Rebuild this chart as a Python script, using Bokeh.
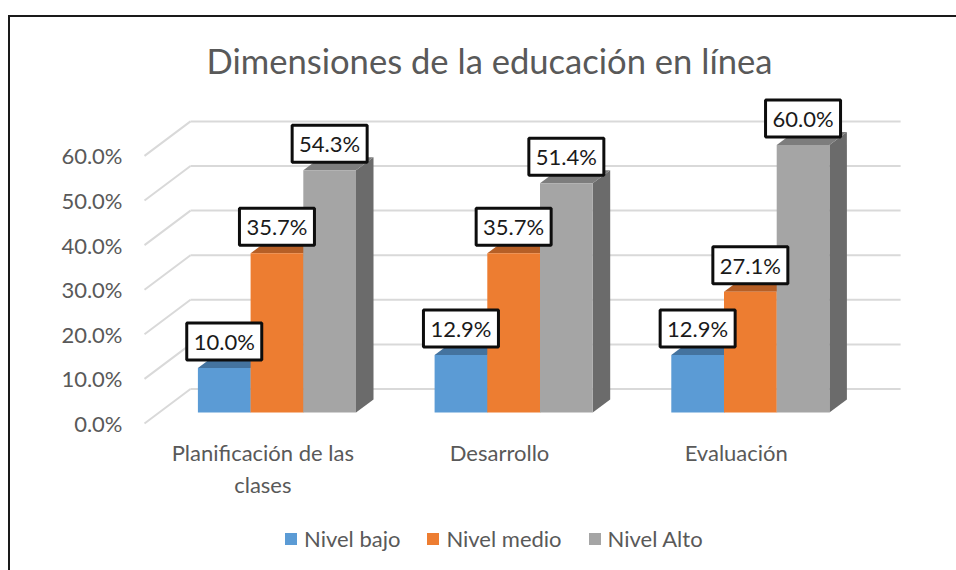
from bokeh.plotting import figure
from bokeh.models import Range1d, FixedTicker, Legend, LegendItem, Title, InlineStyleSheet
from bokeh.core.properties import value
from bokeh.embed import file_html
from bokeh.resources import INLINE

categories = ["Planificación de las\nclases", "Desarrollo", "Evaluación"]
series_names = ["Nivel bajo", "Nivel medio", "Nivel Alto"]
nivel_bajo = [10.0, 12.9, 12.9]
nivel_medio = [35.7, 35.7, 27.1]
nivel_alto = [54.3, 51.4, 60.0]
ticks = [0, 10, 20, 30, 40, 50, 60]
title_text = "Dimensiones de la educación en línea"

FONT = "Lato"
PX_X = 236.7
PX_Y = 4.46
W, H = 956, 570
FT = 90
X0, Y0 = 144, 423   # page position of the chart's origin

colors = ["#5b9bd5", "#ed7d31", "#a5a5a5"]
top_colors = ["#44739f", "#b65f26", "#7d7d7d"]
side_colors = ["#3e6a93", "#a85722", "#6b6b6b"]

p = figure(width=W, height=H, output_backend="svg", toolbar_location=None,
           x_range=Range1d(-X0 / PX_X, (W - X0) / PX_X),
           y_range=Range1d(-(H - Y0) / PX_Y, (Y0 - FT) / PX_Y),
           min_border_left=0, min_border_right=0, min_border_top=FT, min_border_bottom=0,
           tools="")
p.outline_line_color = None
p.grid.visible = False
p.stylesheets = [InlineStyleSheet(css=":host::before{content:'';position:absolute;left:8px;top:15px;"
                                      "right:0;bottom:0;border-left:2px solid #1a1a1a;"
                                      "border-top:2px solid #1a1a1a;pointer-events:none;z-index:5;}")]

wall_dx = 46 / PX_X
wall_dy = 34.5 / PX_Y
n = len(categories)
p.segment(x0=[0] * len(ticks), y0=ticks, x1=[wall_dx] * len(ticks), y1=[t + wall_dy for t in ticks],
          line_color="#d9d9d9", line_width=2)
p.segment(x0=[wall_dx] * len(ticks), y0=[t + wall_dy for t in ticks],
          x1=[wall_dx + n] * len(ticks), y1=[t + wall_dy for t in ticks],
          line_color="#d9d9d9", line_width=2)

base = 11 / PX_Y
bar_w = 52.7 / PX_X
first = 53.4 / PX_X
dx = 17.5 / PX_X
dy = 13 / PX_Y
items = []
box_x, box_y, box_t = [], [], []
for s, vals in enumerate([nivel_bajo, nivel_medio, nivel_alto]):
    l = [i + first + s * bar_w for i in range(n)]
    r = [a + bar_w for a in l]
    t = [base + v for v in vals]
    p.patches(xs=[[b, b + dx, b + dx, b] for b in r],
              ys=[[base, base + dy, y + dy, y] for y in t],
              fill_color=side_colors[s], line_color=None)
    p.patches(xs=[[a, a + dx, b + dx, b] for a, b in zip(l, r)],
              ys=[[y, y + dy, y + dy, y] for y in t],
              fill_color=top_colors[s], line_color=None)
    q = p.quad(left=l, right=r, bottom=[base] * n, top=t, fill_color=colors[s], line_color=None)
    items.append(LegendItem(label=series_names[s], renderers=[q]))
    box_x += [(a + b) / 2 for a, b in zip(l, r)]
    box_y += [y + 26.5 / PX_Y for y in t]
    box_t += [f"{v:.1f}%" for v in vals]

p.rect(x=box_x, y=box_y, width=75, height=37, width_units="screen", height_units="screen",
       fill_color="white", line_color="#0d0d0d", line_width=3)
p.text(x=box_x, y=box_y, text=box_t, text_align="center", text_baseline="middle",
       text_font=value(FONT), text_font_size="22px", text_color="#1a1a1a")

ya = p.yaxis[0]
ya.ticker = FixedTicker(ticks=ticks)
ya.major_label_overrides = {t: f"{t:.1f}%" for t in ticks}
ya.fixed_location = 0
xa = p.xaxis[0]
xa.ticker = FixedTicker(ticks=[i + 0.5 for i in range(n)])
xa.major_label_overrides = {i + 0.5: c for i, c in enumerate(categories)}
xa.fixed_location = 0
for ax in (xa, ya):
    ax.axis_line_color = None
    ax.major_tick_line_color = None
    ax.minor_tick_line_color = None
    ax.major_label_text_font = FONT
    ax.major_label_text_font_size = "22px"
    ax.major_label_text_color = "#595959"
ya.major_label_standoff = 16
xa.major_label_standoff = 9

legend = Legend(items=items, orientation="horizontal", location=(283, 18),
                background_fill_alpha=0, border_line_color=None,
                glyph_width=15, glyph_height=15, label_standoff=6, spacing=25,
                label_text_font=FONT, label_text_font_size="22px", label_text_color="#595959",
                margin=0, padding=0)
p.add_layout(legend, "center")

p.title = Title(text=title_text, text_font=FONT, text_font_size="34.6px", text_font_style="normal",
                text_color="#595959", align="left", offset=206, standoff=20)

open("out.html", "w").write(file_html(p, INLINE))
